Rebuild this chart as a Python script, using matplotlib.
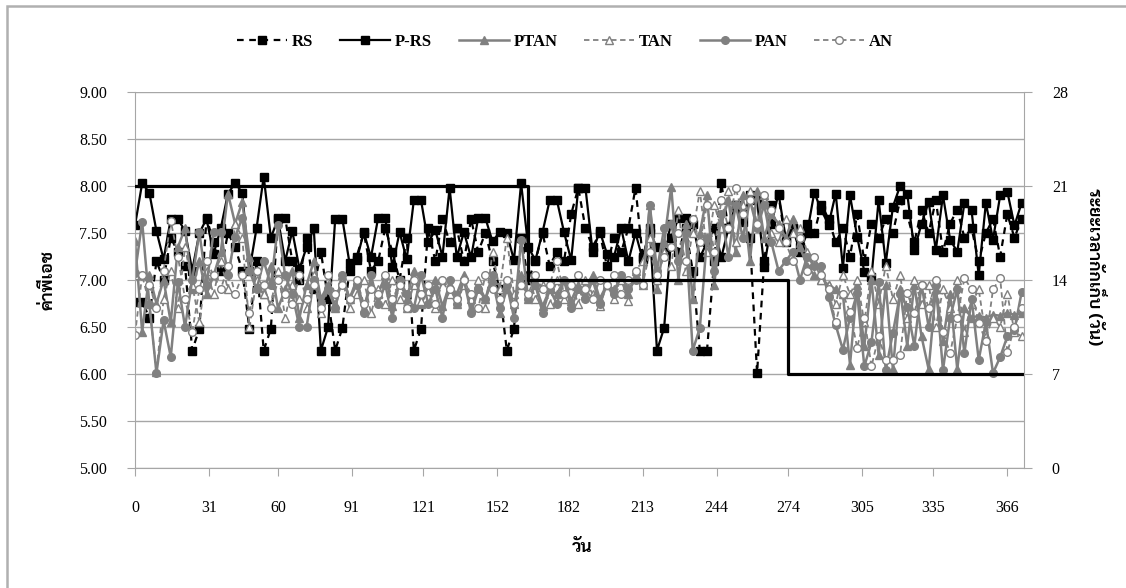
import numpy as np
import matplotlib
matplotlib.use('Agg')
import matplotlib.pyplot as plt
from matplotlib.patches import Rectangle

# sampling days (every 3 days over the run)
days = np.arange(0, 373, 3)

rs = [6.77, 6.77, 6.60, 7.20, 7.00, 7.45, 7.30, 7.15, 6.25, 6.48, 7.66, 7.40, 7.10, 7.50, 7.35,
      7.10, 6.48, 7.20, 6.25, 6.48, 7.66, 7.66, 7.20, 7.00, 7.45, 6.90, 7.30, 6.80, 6.25, 6.49,
      7.10, 7.25, 7.50, 7.10, 7.20, 7.55, 7.30, 7.00, 7.45, 6.25, 6.48, 7.55, 7.20, 7.65, 7.40,
      7.55, 7.20, 7.65, 7.30, 7.50, 7.20, 6.90, 6.25, 6.48, 7.45, 7.00, 7.20, 7.50, 7.15, 7.30,
      7.20, 7.70, 7.98, 7.55, 7.35, 7.50, 7.15, 7.45, 7.30, 7.55, 7.98, 7.25, 7.50, 7.35, 7.30,
      7.60, 7.30, 7.55, 7.10, 6.25, 6.25, 7.20, 8.03, 7.55, 7.80, 7.70, 7.45, 6.01, 7.20, 7.80,
      7.90, 7.40, 7.55, 7.35, 7.60, 7.50, 7.80, 7.65, 7.40, 7.55, 7.25, 7.70, 7.20, 7.60, 7.45,
      7.65, 7.50, 7.85, 7.70, 7.40, 7.75, 7.50, 7.85, 7.30, 7.60, 7.75, 7.45, 7.55, 7.20, 7.50,
      7.65, 7.25, 7.70, 7.45, 7.65]
p_rs = [7.58, 8.03, 7.93, 7.52, 7.22, 7.65, 7.65, 7.52, 7.10, 7.50, 7.65, 7.28, 7.55, 7.92, 8.03,
        7.93, 7.10, 7.55, 8.10, 7.45, 7.65, 7.20, 7.52, 7.12, 7.35, 7.55, 6.25, 6.50, 7.65, 7.65,
        7.18, 7.21, 7.51, 7.24, 7.66, 7.66, 7.14, 7.51, 7.22, 7.85, 7.85, 7.40, 7.53, 7.25, 7.98,
        7.24, 7.51, 7.24, 7.66, 7.66, 7.41, 7.51, 7.50, 7.21, 8.03, 7.35, 7.21, 7.51, 7.85, 7.85,
        7.51, 7.21, 7.98, 7.98, 7.30, 7.52, 7.28, 7.25, 7.55, 7.20, 7.50, 7.22, 7.55, 6.25, 6.49,
        7.45, 7.66, 7.66, 7.60, 7.24, 7.40, 7.55, 7.24, 7.55, 7.80, 7.62, 7.90, 7.85, 7.14, 7.60,
        7.92, 7.45, 7.55, 7.30, 7.50, 7.93, 7.74, 7.59, 7.92, 7.13, 7.90, 7.46, 7.09, 7.03, 7.85,
        7.18, 7.78, 8.00, 7.92, 7.32, 7.60, 7.83, 7.32, 7.90, 7.43, 7.30, 7.82, 7.74, 7.05, 7.82,
        7.43, 7.90, 7.94, 7.58, 7.82]
ptan = [7.42, 6.45, 7.05, 6.75, 7.00, 6.55, 7.35, 7.55, 6.90, 7.20, 6.85, 7.05, 7.30, 7.92, 7.60,
        7.83, 7.25, 6.95, 6.85, 7.15, 6.70, 6.90, 7.10, 6.60, 6.95, 7.20, 6.80, 6.95, 6.70, 7.05,
        6.80, 7.00, 6.70, 6.95, 6.85, 7.05, 6.72, 6.98, 6.80, 7.10, 6.75, 6.90, 7.00, 6.72, 6.95,
        6.85, 7.05, 6.70, 6.95, 6.80, 7.00, 6.65, 6.90, 6.75, 7.05, 6.80, 6.95, 6.72, 6.90, 6.85,
        7.00, 6.78, 6.95, 6.85, 7.05, 6.80, 6.95, 6.90, 7.02, 6.85, 7.05, 6.95, 7.80, 6.90, 7.40,
        7.99, 7.00, 7.60, 6.80, 7.50, 7.90, 6.95, 7.60, 7.85, 7.30, 7.90, 7.20, 7.95, 7.45, 7.70,
        7.60, 7.45, 7.65, 7.35, 7.15, 7.05, 7.00, 6.95, 6.90, 6.85, 6.10, 6.95, 6.30, 7.00, 6.20,
        6.95, 6.05, 6.90, 6.30, 6.95, 6.40, 6.05, 6.90, 6.35, 6.85, 6.05, 6.70, 6.60, 6.62, 6.60,
        6.63, 6.62, 6.65, 6.63, 6.65]
tan = [7.05, 7.05, 6.75, 6.02, 6.80, 7.10, 6.70, 7.35, 6.95, 6.55, 7.10, 6.85, 7.20, 6.90, 7.60,
       7.45, 6.50, 7.00, 6.85, 6.75, 7.10, 6.60, 6.95, 6.80, 6.70, 7.05, 6.65, 6.90, 6.75, 7.00,
       6.70, 6.85, 7.00, 6.65, 6.90, 6.75, 7.00, 6.80, 6.70, 6.95, 6.78, 6.88, 6.70, 7.00, 6.85,
       6.75, 6.95, 6.80, 7.00, 6.70, 7.30, 6.90, 7.45, 6.85, 6.95, 7.05, 6.80, 6.95, 6.75, 7.00,
       6.80, 6.95, 6.75, 7.00, 6.85, 6.72, 6.95, 6.80, 7.00, 6.78, 7.10, 7.20, 7.45, 7.00, 7.30,
       7.15, 7.75, 7.10, 7.50, 7.95, 7.30, 7.80, 7.55, 7.95, 7.40, 7.80, 7.95, 7.60, 7.90, 7.50,
       7.40, 7.65, 7.50, 7.55, 7.30, 7.20, 7.00, 6.95, 6.75, 7.05, 6.85, 7.00, 6.55, 7.10, 6.75,
       7.15, 6.80, 7.05, 6.60, 7.00, 6.75, 6.95, 6.50, 6.90, 6.70, 7.00, 6.45, 6.75, 6.90, 6.40,
       6.60, 6.50, 6.85, 6.45, 6.40]
pan = [7.07, 7.62, 6.75, 6.01, 6.57, 6.18, 6.98, 6.50, 7.00, 7.51, 6.95, 7.51, 7.51, 7.05, 7.46,
       7.66, 7.10, 6.90, 7.20, 6.95, 7.58, 7.05, 6.85, 6.50, 6.50, 7.00, 6.75, 6.90, 6.70, 7.05,
       6.80, 6.95, 6.65, 7.05, 6.75, 6.95, 6.60, 7.00, 6.85, 6.70, 7.05, 6.75, 6.90, 6.60, 7.00,
       6.75, 7.00, 6.65, 6.90, 6.80, 7.05, 6.70, 6.95, 6.60, 7.43, 6.80, 6.95, 6.65, 6.90, 6.75,
       7.00, 6.70, 6.90, 6.80, 7.00, 6.75, 6.95, 6.85, 7.05, 6.90, 7.00, 6.95, 7.80, 7.10, 7.55,
       7.60, 7.20, 7.50, 6.25, 6.49, 7.45, 7.10, 7.70, 7.25, 7.80, 7.45, 7.85, 7.55, 7.80, 7.40,
       7.10, 7.20, 7.30, 7.00, 7.25, 7.15, 7.15, 6.82, 6.52, 6.26, 6.60, 6.86, 6.08, 6.34, 6.98,
       6.04, 6.44, 6.85, 6.71, 6.30, 6.95, 6.50, 6.95, 6.04, 6.60, 6.90, 6.22, 6.80, 6.15, 6.55,
       6.01, 6.18, 6.40, 6.47, 6.87]
an = [6.42, 7.05, 6.95, 6.70, 7.10, 7.63, 7.25, 6.80, 6.45, 6.90, 7.20, 7.05, 6.90, 7.15, 6.85,
      7.05, 6.65, 7.10, 6.95, 6.70, 7.00, 6.85, 6.75, 7.05, 6.80, 6.95, 6.70, 7.05, 6.85, 6.95,
      6.80, 7.00, 6.75, 6.90, 6.85, 7.05, 6.80, 6.95, 6.70, 7.00, 6.85, 6.95, 6.75, 7.00, 6.90,
      6.80, 7.00, 6.85, 6.70, 7.05, 6.90, 6.80, 7.00, 6.75, 6.95, 6.85, 7.05, 6.90, 6.95, 7.20,
      6.85, 6.95, 7.05, 6.90, 6.80, 7.00, 6.95, 7.05, 6.85, 7.00, 7.10, 6.95, 7.30, 7.05, 7.25,
      7.35, 7.50, 7.20, 7.65, 7.40, 7.80, 7.30, 7.85, 7.55, 7.98, 7.70, 7.85, 7.60, 7.90, 7.75,
      7.55, 7.40, 7.20, 7.45, 7.10, 7.25, 7.05, 6.90, 6.55, 6.85, 6.66, 6.28, 6.60, 6.08, 6.40,
      6.15, 6.15, 6.20, 6.86, 6.65, 6.95, 6.70, 7.00, 6.45, 6.22, 6.60, 7.02, 6.90, 6.54, 6.35,
      6.90, 7.02, 6.23, 6.50, 6.70]

# hydraulic retention time steps (days)
hrt_days = [0, 165, 274, 373]
hrt = [21, 14, 7, 7]

xticks = [0, 31, 60, 91, 121, 152, 182, 213, 244, 274, 305, 335, 366]
ph_ticks = [5.0, 5.5, 6.0, 6.5, 7.0, 7.5, 8.0, 8.5, 9.0]
hrt_ticks = [0, 7, 14, 21, 28]

plt.rcParams['font.family'] = ['Liberation Serif', 'DejaVu Serif']
thai = ['Sarabun', 'Noto Sans Thai', 'Athiti', 'DejaVu Sans']
gray = '#808080'
axcol = '#a6a6a6'

fig = plt.figure(figsize=(11.26, 5.88), dpi=100)
ax = fig.add_axes([135 / 1126, 1 - 468 / 588, 889 / 1126, 376 / 588])

ax.plot(days, rs, color='k', ls=(0, (3, 2.5)), lw=1.6, marker='s', ms=5.5, label='RS')
ax.plot(days, p_rs, color='k', lw=1.6, marker='s', ms=5.5, label='P-RS')
ax.plot(days, ptan, color=gray, lw=1.8, marker='^', ms=5.5, label='PTAN')
ax.plot(days, tan, color=gray, ls=(0, (3, 2)), lw=1.3, marker='^', ms=5.5,
        mfc='white', label='TAN')
ax.plot(days, pan, color=gray, lw=1.8, marker='o', ms=5.5, label='PAN')
ax.plot(days, an, color=gray, ls=(0, (3, 2)), lw=1.3, marker='o', ms=5.5,
        mfc='white', label='AN')

ax.set_xlim(0, 373)
ax.set_ylim(5, 9)
ax.set_xticks(xticks)
ax.set_xticklabels([str(t) for t in xticks])
ax.set_yticks(ph_ticks)
ax.set_yticklabels(['%.2f' % t for t in ph_ticks])
ax.yaxis.grid(True, color=axcol, lw=1)
ax.set_axisbelow(True)
for s in ['top', 'right']:
    ax.spines[s].set_visible(False)
for s in ['left', 'bottom']:
    ax.spines[s].set_color(axcol)
ax.tick_params(axis='y', direction='out', length=6, color=axcol, pad=14, labelsize=11.5)
ax.tick_params(axis='x', direction='out', length=6, color=axcol, pad=17, labelsize=11.5)

ax2 = ax.twinx()
ax2.step(hrt_days, hrt, where='post', color='k', lw=2.3)
ax2.set_ylim(0, 28)
ax2.set_yticks(hrt_ticks)
ax2.tick_params(axis='y', direction='out', length=6, color=axcol, pad=14, labelsize=11.5)
for s in ['top', 'left', 'bottom']:
    ax2.spines[s].set_visible(False)
ax2.spines['right'].set_color(axcol)

fig.text(48 / 1126, 1 - 280 / 588, 'ค่าพีเอช', rotation=90, ha='center', va='center',
         family=thai, fontweight='bold', fontsize=12.5)
fig.text(582 / 1126, 1 - 547 / 588, 'วัน', ha='center', va='center',
         family=thai, fontweight='bold', fontsize=12.5)
fig.text(1094 / 1126, 1 - 267 / 588, 'ระยะเวลากักเก็บ (วัน)', rotation=270,
         ha='center', va='center', family=thai, fontweight='bold', fontsize=12.5)

handles, labels = ax.get_legend_handles_labels()
fig.legend(handles, labels, loc='center', bbox_to_anchor=(565 / 1126, 1 - 42 / 588),
           ncol=6, frameon=False, handlelength=3.0, columnspacing=1.6, handletextpad=0.3,
           prop=dict(family='Liberation Serif', weight='bold', size=12))

fig.patches.append(Rectangle((7 / 1126, -0.1), 1.2, 1.1 - 6 / 588, transform=fig.transFigure,
                             fill=False, ec='#b0b0b0', lw=1.8))

fig.savefig('out.png', dpi=100)
